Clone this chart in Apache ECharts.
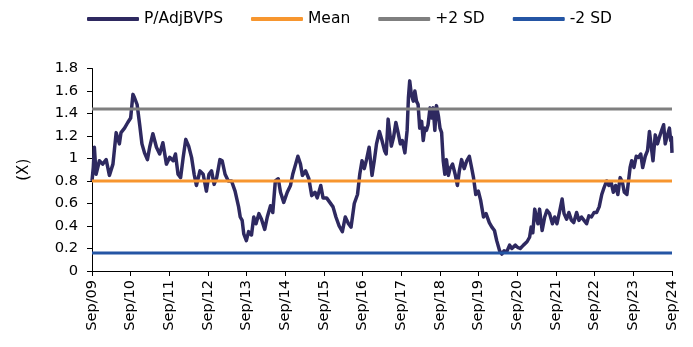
<!DOCTYPE html>
<html>
<head>
<meta charset="utf-8">
<script src="https://cdn.jsdelivr.net/npm/echarts@6/dist/echarts.min.js"></script>
<style>
  html, body { margin: 0; padding: 0; background: #fff; }
  #chart { width: 693px; height: 347px; }
</style>
</head>
<body>
<div id="chart"></div>
<script>
// Months elapsed since Sep 2009 for each observation
const monthsSinceSep09 = [
  0, 0.4, 0.74, 1.26, 2.3, 3.3, 4.4, 5.4, 6.5, 7.5, 8.5, 9.0, 10.1, 11.1, 12.0, 12.7, 13.2, 14.0, 14.8, 15.5,
  16.3, 17.2, 17.9, 18.9, 20.0, 21.0, 22.0, 23.1, 24.1, 25.2, 25.9, 26.7, 27.5, 28.3, 29.1, 30.0, 30.9, 31.7,
  32.4, 33.5, 34.5, 35.5, 36.3, 37.1, 37.9, 38.7, 39.7, 40.4, 41.3, 42.3, 43.3, 44.4,
  45.5, 46.0, 46.6, 47.1, 47.9, 48.6, 49.5, 50.2, 50.9, 51.8, 52.6, 53.6, 54.4, 55.4, 56.1, 56.9, 57.8, 58.5,
  59.5, 60.6, 61.6, 62.3, 63.2, 63.9, 64.7, 65.3, 66.3, 67.3, 68.2, 69.2, 69.9, 71.0, 71.7, 72.8, 73.8, 74.8,
  75.7, 76.7, 77.7, 78.6, 79.6, 80.4, 81.4, 82.4, 83.1, 83.8, 84.5, 85.2, 86.0, 86.9, 87.6, 88.3, 89.2, 90.0,
  90.8, 91.3, 91.9, 92.4, 92.9, 93.6, 94.3, 95.0, 95.7, 96.3, 97.1, 97.8, 98.2, 98.6, 99.1, 99.7, 100.2, 100.7,
  101.2, 101.7, 102.3, 102.8, 103.3, 103.8, 104.3, 104.9, 105.4, 105.9, 106.4, 106.9, 107.5, 108.0, 108.5,
  109.0, 109.5, 110.0, 110.6, 111.1, 111.9, 112.7, 113.4, 114.0, 114.7, 115.5, 116.3, 117.1, 117.8, 118.4,
  119.1, 119.9, 120.6, 121.5, 122.3, 123.3, 124.1, 124.9, 125.6, 126.5, 127.2, 127.9, 128.7, 129.6, 130.3,
  131.4, 132.1, 132.9, 133.9, 135.0, 135.8, 136.3, 136.8, 137.4, 137.9, 138.4, 138.9, 139.7, 140.5, 141.2,
  142.0, 142.9, 143.6, 144.3, 145.2, 145.9, 146.5, 147.3, 148.0, 148.8, 149.5, 150.4, 151.1, 151.9, 152.7,
  153.5, 154.2, 155.0, 155.8, 156.6, 157.4, 158.2, 158.9, 159.7, 160.4, 161.1, 161.8, 162.5, 163.2, 163.9,
  164.6, 165.2, 166.0, 166.5, 167.0, 167.5, 168.2, 168.9, 169.6, 170.3, 170.9, 171.7, 172.4, 173.0, 173.4,
  174.1, 174.8, 175.5, 176.1, 176.9, 177.4, 177.9, 178.6, 179.2, 179.6, 179.8, 180.0
];

// Price to adjusted book value per share (x)
const pbValues = [
  0.80, 0.92, 1.10, 0.86, 0.98, 0.95, 0.99, 0.85, 0.95, 1.23, 1.13, 1.23, 1.27, 1.32, 1.36, 1.57, 1.54, 1.48, 1.30, 1.13,
  1.05, 0.99, 1.10, 1.22, 1.10, 1.04, 1.14, 0.95, 1.01, 0.98, 1.04, 0.86, 0.83, 1.01, 1.17, 1.11, 1.01, 0.86,
  0.76, 0.89, 0.86, 0.71, 0.86, 0.89, 0.77, 0.83, 0.99, 0.98, 0.86, 0.80, 0.80, 0.71,
  0.57, 0.48, 0.45, 0.33, 0.27, 0.35, 0.32, 0.48, 0.42, 0.51, 0.46, 0.37, 0.48, 0.58, 0.52, 0.80, 0.82, 0.70,
  0.61, 0.70, 0.76, 0.86, 0.95, 1.02, 0.95, 0.85, 0.89, 0.82, 0.67, 0.70, 0.65, 0.76, 0.65, 0.65, 0.61, 0.57,
  0.48, 0.40, 0.35, 0.48, 0.42, 0.39, 0.60, 0.68, 0.86, 0.98, 0.91, 0.99, 1.10, 0.85, 0.98, 1.13, 1.24, 1.16,
  1.07, 1.04, 1.35, 1.23, 1.11, 1.19, 1.32, 1.23, 1.13, 1.16, 1.05, 1.25, 1.54, 1.69, 1.57, 1.51, 1.60, 1.51,
  1.48, 1.27, 1.33, 1.16, 1.27, 1.25, 1.30, 1.45, 1.36, 1.45, 1.25, 1.47, 1.38, 1.27, 1.23,
  0.98, 0.86, 0.99, 0.85, 0.91, 0.95, 0.86, 0.76, 0.89, 0.99, 0.91, 0.98, 1.02, 0.92, 0.83,
  0.68, 0.71, 0.63, 0.48, 0.51, 0.43, 0.39, 0.36, 0.27, 0.18, 0.15, 0.18, 0.17, 0.23, 0.20,
  0.23, 0.21, 0.20, 0.23, 0.26, 0.30, 0.39, 0.34, 0.55, 0.48, 0.42, 0.55, 0.36, 0.48, 0.54,
  0.51, 0.42, 0.48, 0.42, 0.54, 0.64, 0.51, 0.46, 0.52, 0.45, 0.43, 0.52, 0.45, 0.48, 0.45,
  0.42, 0.49, 0.48, 0.52, 0.52, 0.57, 0.68, 0.74, 0.80, 0.76, 0.79, 0.70, 0.76, 0.68, 0.83,
  0.79, 0.70, 0.68, 0.80, 0.92, 0.98, 0.92, 1.02, 1.01, 1.04, 0.92, 1.02, 1.07, 1.24, 1.23,
  0.98, 1.21, 1.13, 1.19, 1.26, 1.30, 1.13, 1.21, 1.27, 1.16, 1.19, 1.05
];

const meanValue = 0.80;
const plusTwoSd = 1.44;
const minusTwoSd = 0.16;

const tickLabels = ['Sep/09', 'Sep/10', 'Sep/11', 'Sep/12', 'Sep/13', 'Sep/14', 'Sep/15', 'Sep/16',
  'Sep/17', 'Sep/18', 'Sep/19', 'Sep/20', 'Sep/21', 'Sep/22', 'Sep/23', 'Sep/24'];

const FONT = 'DejaVu Sans';
const firstMonth = 0;
const lastMonth = 180;

const pbSeries = monthsSinceSep09.map((m, i) => [m, pbValues[i]]);
const flat = v => [[firstMonth, v], [lastMonth, v]];

const chart = echarts.init(document.getElementById('chart'), null, { renderer: 'canvas' });
chart.setOption({
  animation: false,
  backgroundColor: '#ffffff',
  legend: {
    top: 6,
    left: 82,
    itemWidth: 52,
    itemHeight: 4,
    itemGap: 28,
    icon: 'roundRect',
    textStyle: {
      fontFamily: FONT, fontSize: 15.5, color: '#000',
      rich: { wide: { fontFamily: FONT, fontSize: 15.5, color: '#000', width: 85 } }
    },
    formatter: name => name === 'P/AdjBVPS' ? '{wide|' + name + '}' : name,
    data: ['P/AdjBVPS', 'Mean', '+2 SD', '-2 SD']
  },
  grid: {
    left: 92, right: 21, top: 68.5, bottom: 76,
    containLabel: false,
    outerBoundsMode: 'none'
  },
  xAxis: {
    type: 'value',
    min: firstMonth,
    max: lastMonth,
    interval: 12,
    splitLine: { show: false },
    axisLine: { show: true, onZero: false, lineStyle: { color: '#000', width: 1 } },
    axisTick: { show: true, length: 5, lineStyle: { color: '#000' } },
    axisLabel: {
      rotate: 90,
      margin: 9,
      fontFamily: FONT,
      fontSize: 14.5,
      color: '#000',
      formatter: v => tickLabels[Math.round(v / 12)] || ''
    }
  },
  yAxis: {
    type: 'value',
    min: 0,
    max: 1.8,
    interval: 0.2,
    name: '(X)',
    nameLocation: 'middle',
    nameGap: 60,
    nameTextStyle: { fontFamily: FONT, fontSize: 15, color: '#000' },
    splitLine: { show: false },
    axisLine: { show: true, lineStyle: { color: '#000', width: 1 } },
    axisTick: { show: true, length: 5, lineStyle: { color: '#000' } },
    axisLabel: {
      margin: 14,
      fontFamily: FONT,
      fontSize: 14.7,
      color: '#000',
      formatter: v => String(+v.toFixed(1))
    }
  },
  series: [
    {
      name: 'P/AdjBVPS',
      type: 'line',
      data: pbSeries,
      showSymbol: false,
      symbol: 'none',
      color: '#2E2960',
      lineStyle: { color: '#2E2960', width: 3.5, join: 'round' }
    },
    {
      name: 'Mean',
      type: 'line',
      data: flat(meanValue),
      showSymbol: false,
      symbol: 'none',
      color: '#F7962F',
      lineStyle: { color: '#F7962F', width: 3 }
    },
    {
      name: '+2 SD',
      type: 'line',
      data: flat(plusTwoSd),
      showSymbol: false,
      symbol: 'none',
      color: '#7F7F7F',
      lineStyle: { color: '#7F7F7F', width: 3 }
    },
    {
      name: '-2 SD',
      type: 'line',
      data: flat(minusTwoSd),
      showSymbol: false,
      symbol: 'none',
      color: '#2455A4',
      lineStyle: { color: '#2455A4', width: 3 }
    }
  ]
});
</script>
</body>
</html>
